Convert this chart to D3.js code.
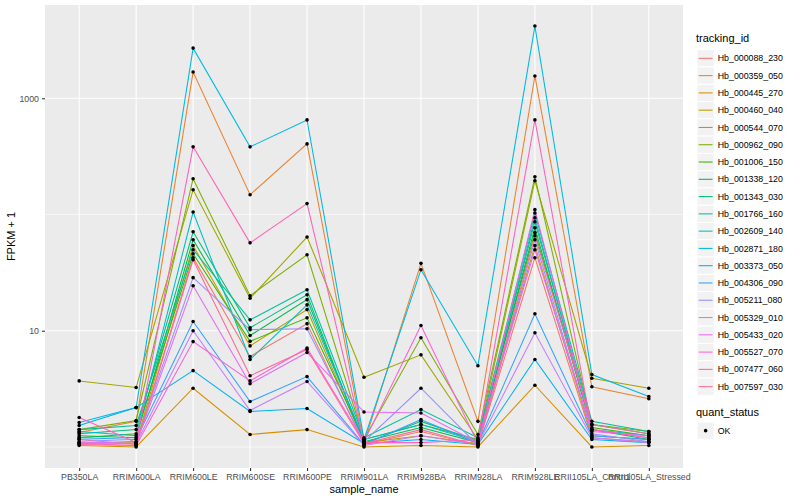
<html>
<head>
<script src="https://cdn.jsdelivr.net/npm/d3@7"></script>
<style>
body { margin: 0; background: #fff; }
text { font-family: "Liberation Sans", Arial, sans-serif; }
</style>
</head>
<body>
<svg></svg>
<script>

var width = 800;
var height = 500;

// x categories
var samples = ["PB350LA", "RRIM600LA", "RRIM600LE", "RRIM600SE", "RRIM600PE", "RRIM901LA",
  "RRIM928BA", "RRIM928LA", "RRIM928LE", "RRII105LA_Control", "RRII105LA_Stressed"];

var trackingIds = ["Hb_000088_230", "Hb_000359_050", "Hb_000445_270", "Hb_000460_040", "Hb_000544_070",
  "Hb_000962_090", "Hb_001006_150", "Hb_001338_120", "Hb_001343_030", "Hb_001766_160",
  "Hb_002609_140", "Hb_002871_180", "Hb_003373_050", "Hb_004306_090", "Hb_005211_080",
  "Hb_005329_010", "Hb_005433_020", "Hb_005527_070", "Hb_007477_060", "Hb_007597_030"];

// FPKM + 1, one row per tracking id, one value per sample
var fpkm = [
  [1.16, 1.05, 42.5, 6.0, 11.5, 1.05, 1.36, 1.03, 42.5, 1.2, 1.11],
  [1.33, 1.66, 1680, 148, 405, 1.07, 38, 1.66, 1555, 3.3, 2.6],
  [1.03, 1.0, 3.2, 1.28, 1.41, 1.0, 1.03, 1.0, 3.4, 1.0, 1.03],
  [1.07, 1.09, 54, 7.4, 15.2, 1.09, 1.25, 1.07, 54, 1.25, 1.16],
  [3.7, 3.25, 163, 19, 64, 3.98, 6.2, 1.16, 195, 3.9, 3.2],
  [1.41, 1.69, 203, 20, 45, 1.16, 8.7, 1.28, 211, 1.56, 1.36],
  [1.2, 1.3, 45.9, 8.1, 12.9, 1.16, 1.56, 1.16, 70, 1.47, 1.25],
  [1.25, 1.2, 60.6, 9.1, 18.5, 1.11, 1.47, 1.09, 76.9, 1.41, 1.16],
  [1.3, 1.41, 71, 10.6, 20.4, 1.07, 1.66, 1.13, 86.5, 1.56, 1.3],
  [1.41, 1.53, 49.8, 12.4, 22.5, 1.2, 2.1, 1.2, 103, 1.66, 1.36],
  [1.36, 1.25, 105, 5.65, 16.7, 1.16, 1.56, 1.11, 93.7, 1.41, 1.25],
  [1.62, 2.18, 2700, 382, 651, 1.16, 33.5, 5.0, 4180, 4.2, 2.72],
  [1.53, 2.18, 4.54, 2.02, 2.14, 1.07, 1.16, 1.05, 5.65, 1.16, 1.09],
  [1.2, 1.16, 12, 2.46, 4.03, 1.05, 1.72, 1.07, 14, 1.25, 1.16],
  [1.16, 1.11, 28.6, 10.2, 10.4, 1.11, 3.2, 1.03, 60.6, 1.3, 1.11],
  [1.11, 1.07, 10, 2.06, 3.66, 1.03, 1.25, 1.05, 9.6, 1.2, 1.09],
  [1.09, 1.07, 24.4, 3.5, 6.5, 2.0, 1.96, 1.09, 49.8, 1.36, 1.25],
  [1.07, 1.03, 8.06, 3.7, 7.1, 1.11, 11.1, 1.07, 110, 1.41, 1.2],
  [1.79, 1.09, 382, 57, 124, 1.09, 1.09, 1.16, 651, 1.41, 1.2],
  [1.05, 1.03, 40.8, 4.1, 6.9, 1.07, 1.41, 1.03, 65.6, 1.56, 1.3]
];

var yTicks = [10, 1000];
var yMinor = [1, 100, 10000];
var statusLevels = ["OK"];

// ggplot hue palette (polar LUV -> sRGB)
function hueColour(h) {
	var l = 65, c = 100, hr = h * Math.PI / 180;
	var U = c * Math.cos(hr), V = c * Math.sin(hr);
	var Xn = 95.047, Yn = 100, Zn = 108.883;
	var un = 4 * Xn / (Xn + 15 * Yn + 3 * Zn), vn = 9 * Yn / (Xn + 15 * Yn + 3 * Zn);
	var Y = Yn * Math.pow((l + 16) / 116, 3);
	var u = U / (13 * l) + un, v = V / (13 * l) + vn;
	var X = 9 * Y * u / (4 * v);
	var Z = -X / 3 - 5 * Y + 3 * Y / v;
	X /= 100; Y /= 100; Z /= 100;
	var rgb = [
		3.240479 * X - 1.537150 * Y - 0.498535 * Z,
		-0.969256 * X + 1.875992 * Y + 0.041556 * Z,
		0.055648 * X - 0.204043 * Y + 1.057311 * Z
	].map(function(t) {
		t = t <= 0.0031308 ? 12.92 * t : 1.055 * Math.pow(t, 1 / 2.4) - 0.055;
		return Math.round(Math.max(0, Math.min(1, t)) * 255);
	});
	return d3.rgb(rgb[0], rgb[1], rgb[2]).formatHex();
}

var colour = d3.scaleOrdinal()
	.domain(trackingIds)
	.range(trackingIds.map(function(d, i) { return hueColour(15 + 360 / trackingIds.length * i); }));

var svg = d3.select('svg').attr("width", width).attr("height", height);
svg.append("rect").attr("width", width).attr("height", height).attr("fill", "#fff");

var panel = {left: 45, right: 683, top: 5, bottom: 468};

var x = d3.scalePoint().domain(samples).range([panel.left, panel.right]).padding(0.6);

var allVals = d3.merge(fpkm);
var lo = Math.log10(d3.min(allVals)), hi = Math.log10(d3.max(allVals));
var ext = (hi - lo) * 0.05;
var y = d3.scaleLog().domain([Math.pow(10, lo - ext), Math.pow(10, hi + ext)]).range([panel.bottom, panel.top]);

// panel + grid
svg.append("rect")
	.attr("x", panel.left).attr("y", panel.top)
	.attr("width", panel.right - panel.left).attr("height", panel.bottom - panel.top)
	.attr("fill", "#EBEBEB");

var grid = svg.append("g");
grid.selectAll(".minor").data(yMinor.filter(function(d) { return y(d) >= panel.top && y(d) <= panel.bottom; }))
	.enter().append("line")
	.attr("x1", panel.left).attr("x2", panel.right)
	.attr("y1", function(d) { return y(d); }).attr("y2", function(d) { return y(d); })
	.attr("stroke", "#fff").attr("stroke-width", 0.55);
grid.selectAll(".majory").data(yTicks).enter().append("line")
	.attr("x1", panel.left).attr("x2", panel.right)
	.attr("y1", function(d) { return y(d); }).attr("y2", function(d) { return y(d); })
	.attr("stroke", "#fff").attr("stroke-width", 1.1);
grid.selectAll(".majorx").data(samples).enter().append("line")
	.attr("y1", panel.top).attr("y2", panel.bottom)
	.attr("x1", function(d) { return x(d); }).attr("x2", function(d) { return x(d); })
	.attr("stroke", "#fff").attr("stroke-width", 1.1);

// lines
var line = d3.line()
	.x(function(d, i) { return x(samples[i]); })
	.y(function(d) { return y(d); });

svg.append("g").selectAll("path").data(fpkm).enter().append("path")
	.attr("d", line)
	.attr("fill", "none")
	.attr("stroke", function(d, i) { return colour(trackingIds[i]); })
	.attr("stroke-width", 1.07);

// points
var pts = [];
fpkm.forEach(function(row, j) {
	row.forEach(function(v, i) { pts.push({sample: samples[i], value: v}); });
});
svg.append("g").selectAll("circle").data(pts).enter().append("circle")
	.attr("cx", function(d) { return x(d.sample); })
	.attr("cy", function(d) { return y(d.value); })
	.attr("r", 1.8)
	.attr("fill", "#000");

// axes
var xAxis = svg.append("g")
	.attr("transform", "translate(0," + panel.bottom + ")")
	.call(d3.axisBottom(x).tickSize(3).tickPadding(3));
var yAxis = svg.append("g")
	.attr("transform", "translate(" + panel.left + ",0)")
	.call(d3.axisLeft(y).tickValues(yTicks).tickFormat(d3.format("d")).tickSize(3).tickPadding(3));

[xAxis, yAxis].forEach(function(a) {
	a.select(".domain").remove();
	a.selectAll(".tick line").attr("stroke", "#333333").attr("stroke-width", 1.07);
	a.selectAll(".tick text").attr("fill", "#4D4D4D").style("font-size", "8.8px");
});

svg.append("text")
	.attr("x", (panel.left + panel.right) / 2).attr("y", 493)
	.attr("text-anchor", "middle").style("font-size", "11px").attr("fill", "#000")
	.text("sample_name");

svg.append("text")
	.attr("transform", "translate(15," + ((panel.top + panel.bottom) / 2) + ") rotate(-90)")
	.attr("text-anchor", "middle").style("font-size", "11px").attr("fill", "#000")
	.text("FPKM + 1");

// legend: tracking_id
var legend = svg.append("g").attr("transform", "translate(696,0)");
legend.append("text").attr("x", 0).attr("y", 42).style("font-size", "11px").text("tracking_id");

var keySize = 17.28;
var keys = legend.selectAll(".key").data(trackingIds).enter().append("g")
	.attr("transform", function(d, i) { return "translate(1," + (49.7 + i * keySize) + ")"; });
keys.append("rect").attr("width", keySize).attr("height", keySize)
	.attr("fill", "#F2F2F2").attr("stroke", "#fff").attr("stroke-width", 1);
keys.append("line").attr("x1", 1.7).attr("x2", keySize - 1.7)
	.attr("y1", keySize / 2).attr("y2", keySize / 2)
	.attr("stroke", function(d) { return colour(d); }).attr("stroke-width", 1.07);
keys.append("text").attr("x", keySize + 3.5).attr("y", keySize / 2 + 3.1)
	.style("font-size", "8.8px").text(function(d) { return d; });

// legend: quant_status
var legend2 = svg.append("g").attr("transform", "translate(696,0)");
legend2.append("text").attr("x", 0).attr("y", 416).style("font-size", "11px").text("quant_status");
var sk = legend2.selectAll(".skey").data(statusLevels).enter().append("g")
	.attr("transform", function(d, i) { return "translate(1," + (422 + i * keySize) + ")"; });
sk.append("rect").attr("width", keySize).attr("height", keySize)
	.attr("fill", "#F2F2F2").attr("stroke", "#fff").attr("stroke-width", 1);
sk.append("circle").attr("cx", keySize / 2).attr("cy", keySize / 2).attr("r", 1.8).attr("fill", "#000");
sk.append("text").attr("x", keySize + 3.5).attr("y", keySize / 2 + 3.1)
	.style("font-size", "8.8px").text(function(d) { return d; });

</script>
</body>
</html>
